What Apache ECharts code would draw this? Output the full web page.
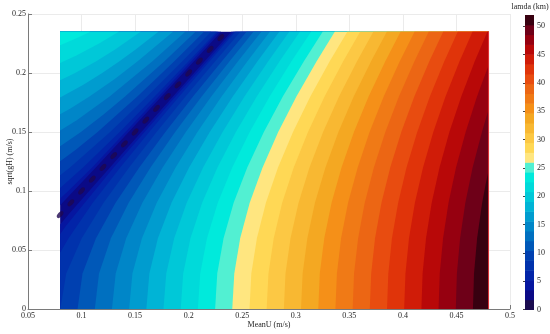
<!DOCTYPE html>
<html>
<head>
<meta charset="utf-8">
<script src="https://cdn.jsdelivr.net/npm/echarts@6/dist/echarts.min.js"></script>
<style>
html,body{margin:0;padding:0;background:#fff;}
#main{width:550px;height:334px;}
</style>
</head>
<body>
<div id="main"></div>
<script>
var FONT = "'Liberation Serif','Times New Roman',serif";

// contour levels of lamda (km): 30 bands from 0 to 52
var levels = [0, 1.733, 3.467, 5.2, 6.933, 8.667, 10.4, 12.133, 13.867, 15.6, 17.333,
  19.067, 20.8, 22.533, 24.267, 26, 27.733, 29.467, 31.2, 32.933, 34.667, 36.4,
  38.133, 39.867, 41.6, 43.333, 45.067, 46.8, 48.533, 50.267, 52];

// one colour per band (levels[i] .. levels[i+1])
var bandColors = ['#1b0c4f', '#0b0a86', '#0616a0', '#0224a8', '#0032ac', '#0040b0',
  '#0058b8', '#0070c0', '#0086c8', '#009ccf', '#00b4d6', '#00c8d8', '#00dada', '#00eadc',
  '#52f0d2', '#ffe680', '#ffd855', '#fcc844', '#f8b832', '#f4a822', '#f59018', '#f07a16',
  '#ec6614', '#e84c10', '#e0340a', '#d01c08', '#b80808', '#960010', '#6e0018', '#380010'];

var cbTicks = [0, 5, 10, 15, 20, 25, 30, 35, 40, 45, 50];

// extent of the computed field
var uMin = 0.08, uMax = 0.48, cMax = 0.235;

// band boundaries right of the lamda=0 valley: [level index, [[MeanU, sqrt(gH)], ...]]
var rightContours = [
  [2, [[0.08,0.0717],[0.0878,0.08],[0.0974,0.09],[0.1265,0.12],[0.1558,0.15],[0.1854,0.18],[0.2149,0.21],[0.2398,0.235]]],
  [3, [[0.08,0.0633],[0.0850,0.07],[0.1030,0.09],[0.1300,0.12],[0.1588,0.15],[0.1878,0.18],[0.2173,0.21],[0.2418,0.235]]],
  [4, [[0.08,0.0477],[0.0879,0.06],[0.1105,0.09],[0.1361,0.12],[0.1632,0.15],[0.1911,0.18],[0.2196,0.21],[0.2436,0.235]]],
  [5, [[0.0802,0],[0.0857,0.03],[0.1002,0.06],[0.1206,0.09],[0.1444,0.12],[0.1701,0.15],[0.1971,0.18],[0.2248,0.21],[0.2483,0.235]]],
  [6, [[0.0963,0],[0.1009,0.03],[0.1135,0.06],[0.1318,0.09],[0.1539,0.12],[0.1783,0.15],[0.2041,0.18],[0.2310,0.21],[0.2540,0.235]]],
  [7, [[0.1124,0],[0.1163,0.03],[0.1274,0.06],[0.1440,0.09],[0.1644,0.12],[0.1874,0.15],[0.2122,0.18],[0.2382,0.21],[0.2605,0.235]]],
  [8, [[0.1284,0],[0.1319,0.03],[0.1417,0.06],[0.1568,0.09],[0.1757,0.12],[0.1974,0.15],[0.2211,0.18],[0.2461,0.21],[0.2678,0.235]]],
  [9, [[0.1444,0],[0.1475,0.03],[0.1564,0.06],[0.1702,0.09],[0.1878,0.12],[0.2082,0.15],[0.2308,0.18],[0.2549,0.21],[0.2758,0.235]]],
  [10, [[0.1605,0],[0.1633,0.03],[0.1713,0.06],[0.1840,0.09],[0.2004,0.12],[0.2197,0.15],[0.2412,0.18],[0.2643,0.21],[0.2846,0.235]]],
  [11, [[0.1765,0],[0.1791,0.03],[0.1865,0.06],[0.1982,0.09],[0.2135,0.12],[0.2317,0.15],[0.2521,0.18],[0.2743,0.21],[0.2939,0.235]]],
  [12, [[0.1926,0],[0.1949,0.03],[0.2017,0.06],[0.2126,0.09],[0.2269,0.12],[0.2441,0.15],[0.2636,0.18],[0.2849,0.21],[0.3038,0.235]]],
  [13, [[0.2086,0],[0.2108,0.03],[0.2171,0.06],[0.2272,0.09],[0.2407,0.12],[0.2570,0.15],[0.2756,0.18],[0.2960,0.21],[0.3143,0.235]]],
  [14, [[0.2247,0],[0.2267,0.03],[0.2326,0.06],[0.2420,0.09],[0.2547,0.12],[0.2702,0.15],[0.2879,0.18],[0.3076,0.21],[0.3251,0.235]]],
  [15, [[0.2407,0],[0.2426,0.03],[0.2481,0.06],[0.2570,0.09],[0.2690,0.12],[0.2836,0.15],[0.3006,0.18],[0.3195,0.21],[0.3364,0.235]]],
  [16, [[0.2568,0],[0.2585,0.03],[0.2637,0.06],[0.2721,0.09],[0.2834,0.12],[0.2974,0.15],[0.3136,0.18],[0.3317,0.21],[0.3481,0.235]]],
  [17, [[0.2728,0],[0.2745,0.03],[0.2794,0.06],[0.2873,0.09],[0.2981,0.12],[0.3114,0.15],[0.3269,0.18],[0.3443,0.21],[0.3601,0.235]]],
  [18, [[0.2889,0],[0.2904,0.03],[0.2951,0.06],[0.3026,0.09],[0.3128,0.12],[0.3255,0.15],[0.3404,0.18],[0.3572,0.21],[0.3724,0.235]]],
  [19, [[0.3049,0],[0.3064,0.03],[0.3108,0.06],[0.3179,0.09],[0.3277,0.12],[0.3398,0.15],[0.3541,0.18],[0.3703,0.21],[0.3850,0.235]]],
  [20, [[0.3210,0],[0.3224,0.03],[0.3266,0.06],[0.3334,0.09],[0.3427,0.12],[0.3543,0.15],[0.3680,0.18],[0.3836,0.21],[0.3978,0.235]]],
  [21, [[0.3370,0],[0.3384,0.03],[0.3423,0.06],[0.3488,0.09],[0.3578,0.12],[0.3689,0.15],[0.3821,0.18],[0.3971,0.21],[0.4109,0.235]]],
  [22, [[0.3531,0],[0.3544,0.03],[0.3582,0.06],[0.3644,0.09],[0.3729,0.12],[0.3836,0.15],[0.3963,0.18],[0.4108,0.21],[0.4241,0.235]]],
  [23, [[0.3691,0],[0.3704,0.03],[0.3740,0.06],[0.3800,0.09],[0.3882,0.12],[0.3985,0.15],[0.4107,0.18],[0.4247,0.21],[0.4376,0.235]]],
  [24, [[0.3852,0],[0.3864,0.03],[0.3898,0.06],[0.3956,0.09],[0.4034,0.12],[0.4134,0.15],[0.4252,0.18],[0.4387,0.21],[0.4512,0.235]]],
  [25, [[0.4012,0],[0.4024,0.03],[0.4057,0.06],[0.4112,0.09],[0.4188,0.12],[0.4284,0.15],[0.4398,0.18],[0.4529,0.21],[0.4650,0.235]]],
  [26, [[0.4173,0],[0.4184,0.03],[0.4216,0.06],[0.4269,0.09],[0.4342,0.12],[0.4434,0.15],[0.4545,0.18],[0.4671,0.21],[0.4789,0.235]]],
  [27, [[0.4333,0],[0.4344,0.03],[0.4375,0.06],[0.4426,0.09],[0.4496,0.12],[0.4586,0.15],[0.4692,0.18],[0.4752,0.195],[0.48,0.2065]]],
  [28, [[0.4494,0],[0.4504,0.03],[0.4534,0.06],[0.4583,0.09],[0.4651,0.12],[0.4738,0.15],[0.4770,0.16],[0.48,0.1687]]],
  [29, [[0.4654,0],[0.4664,0.03],[0.4693,0.06],[0.4740,0.09],[0.4771,0.105],[0.48,0.1174]]]
];

// band boundaries left of (above) the valley
var leftContours = [
  [2, [[0.08,0.0878],[0.0822,0.09],[0.1133,0.12],[0.1440,0.15],[0.1746,0.18],[0.2050,0.21],[0.2302,0.235]]],
  [3, [[0.08,0.0937],[0.0876,0.10],[0.1099,0.12],[0.1410,0.15],[0.1719,0.18],[0.2025,0.21],[0.2278,0.235]]],
  [4, [[0.08,0.1026],[0.1014,0.12],[0.1356,0.15],[0.1682,0.18],[0.2000,0.21],[0.2261,0.235]]],
  [5, [[0.08,0.1133],[0.0892,0.12],[0.1267,0.15],[0.1611,0.18],[0.1941,0.21],[0.2209,0.235]]],
  [6, [[0.08,0.1252],[0.0946,0.135],[0.1150,0.15],[0.1521,0.18],[0.1866,0.21],[0.2144,0.235]]],
  [7, [[0.08,0.1379],[0.0994,0.15],[0.1208,0.165],[0.1406,0.18],[0.1774,0.21],[0.2064,0.235]]],
  [8, [[0.08,0.1513],[0.0955,0.16],[0.1262,0.18],[0.1662,0.21],[0.1968,0.235]]],
  [9, [[0.08,0.1651],[0.0896,0.17],[0.1074,0.18],[0.1310,0.195],[0.1524,0.21],[0.1854,0.235]]],
  [10, [[0.08,0.1793],[0.1017,0.19],[0.1193,0.20],[0.1354,0.21],[0.1505,0.22],[0.1717,0.235]]],
  [11, [[0.08,0.1938],[0.0940,0.20],[0.1137,0.21],[0.1313,0.22],[0.1551,0.235]]],
  [12, [[0.08,0.2085],[0.0956,0.215],[0.1163,0.225],[0.1347,0.235]]],
  [13, [[0.08,0.2235],[0.0968,0.23],[0.1081,0.235]]]
];

// small lamda=0 pockets along the valley
var zeroSpots = [[0.08,0.08],[0.09,0.09],[0.10,0.10],[0.11,0.11],[0.12,0.12],[0.13,0.13],
  [0.14,0.14],[0.15,0.15],[0.16,0.16],[0.17,0.17],[0.18,0.18],[0.19,0.19],[0.20,0.20],
  [0.21,0.21],[0.22,0.22],[0.23,0.23]];

// build filled polygons, painted in order (valley first, then higher levels on top)
var shapes = [];
shapes.push({pts: [[uMin,0],[uMax,0],[uMax,cMax],[uMin,cMax]], color: bandColors[1]});
rightContours.forEach(function (c) {
    var pts = c[1].slice();
    var first = pts[0], last = pts[pts.length - 1];
    if (last[0] < uMax) pts.push([uMax, cMax]);
    pts.push([uMax, 0]);
    if (first[1] > 0) pts.push([uMin, 0]);
    shapes.push({pts: pts, color: bandColors[c[0]]});
});
leftContours.forEach(function (c) {
    shapes.push({pts: c[1].concat([[uMin, cMax]]), color: bandColors[c[0]]});
});

var bands = [];
for (var i = 0; i < bandColors.length; i++) {
    bands.push([levels[i], levels[i + 1], i]);
}

var axisColor = '#7a7a7a';
var textColor = '#262626';

var myChart = echarts.init(document.getElementById('main'));
var option = {
    animation: false,
    title: {
        text: 'lamda (km)',
        left: 530, top: 3, textAlign: 'center', padding: 0,
        textStyle: {fontSize: 8, fontWeight: 'normal', fontFamily: FONT, color: textColor}
    },
    grid: [
        {left: 28, top: 14, width: 482, height: 295, outerBoundsMode: 'none', containLabel: false},
        {left: 525, top: 15, width: 9, height: 294.5, outerBoundsMode: 'none', containLabel: false}
    ],
    xAxis: [{
        type: 'value', min: 0.05, max: 0.5, interval: 0.05,
        name: 'MeanU (m/s)', nameLocation: 'middle', nameGap: 12, nameMoveOverlap: false,
        nameTextStyle: {fontSize: 8, fontFamily: FONT, color: textColor},
        axisLine: {show: true, lineStyle: {color: axisColor, width: 1}},
        axisTick: {show: true, inside: true, length: 4, lineStyle: {color: axisColor}},
        axisLabel: {fontSize: 8, fontFamily: FONT, color: textColor, margin: 3},
        splitLine: {show: true, lineStyle: {color: '#ebebeb', width: 1}}
    }, {
        gridIndex: 1, type: 'value', min: 0, max: 1, show: false
    }],
    yAxis: [{
        type: 'value', min: 0, max: 0.25, interval: 0.05,
        name: 'sqrt(gH) (m/s)', nameLocation: 'middle', nameGap: 14, nameMoveOverlap: false,
        nameTextStyle: {fontSize: 8, fontFamily: FONT, color: textColor},
        axisLine: {show: true, lineStyle: {color: axisColor, width: 1}},
        axisTick: {show: true, inside: true, length: 4, lineStyle: {color: axisColor}},
        axisLabel: {fontSize: 8, fontFamily: FONT, color: textColor, margin: 2},
        splitLine: {show: true, lineStyle: {color: '#ebebeb', width: 1}}
    }, {
        gridIndex: 1, type: 'value', min: 0, max: 52, interval: 5, position: 'right',
        axisLine: {show: false},
        axisTick: {show: true, inside: true, length: 2, lineStyle: {color: '#444'}},
        axisLabel: {
            fontSize: 8, fontFamily: FONT, color: textColor, margin: 3, showMaxLabel: false,
            formatter: function (v) { return cbTicks.indexOf(v) >= 0 ? String(v) : ''; }
        },
        splitLine: {show: false}
    }],
    series: [{
        type: 'custom',
        xAxisIndex: 0, yAxisIndex: 0,
        clip: true, silent: true,
        data: shapes.map(function (s) { return s.pts[0]; }),
        renderItem: function (params, api) {
            var s = shapes[params.dataIndex];
            var pts = s.pts.map(function (p) { return api.coord(p); });
            return {type: 'polygon', shape: {points: pts}, style: {fill: s.color, stroke: null}};
        }
    }, {
        type: 'scatter',
        xAxisIndex: 0, yAxisIndex: 0,
        silent: true,
        symbol: 'circle', symbolSize: [8.5, 4.5], symbolRotate: 48,
        itemStyle: {color: '#1e0850'},
        data: zeroSpots
    }, {
        type: 'line',
        xAxisIndex: 0, yAxisIndex: 0,
        silent: true, symbol: 'none',
        lineStyle: {color: '#e0363a', width: 1},
        data: [[uMax, 0], [uMax, cMax]]
    }, {
        type: 'custom',
        xAxisIndex: 1, yAxisIndex: 1,
        silent: true,
        data: bands,
        renderItem: function (params, api) {
            var b = bands[params.dataIndex];
            var p0 = api.coord([0, b[1]]);
            var p1 = api.coord([1, b[0]]);
            return {type: 'rect', shape: {x: p0[0], y: p0[1], width: p1[0] - p0[0], height: p1[1] - p0[1] + 0.5},
                style: {fill: bandColors[b[2]]}};
        }
    }]
};
myChart.setOption(option);
</script>
</body>
</html>
